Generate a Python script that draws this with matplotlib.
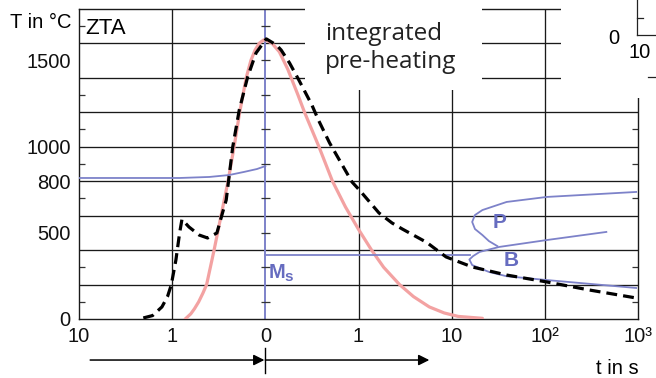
import matplotlib
matplotlib.use("Agg")
import matplotlib.pyplot as plt
from matplotlib.patches import Rectangle
from matplotlib.lines import Line2D

# ---------------- data (x = position in decades: -2..0 heating, 0..4 cooling) -------------
x_tick_pos = [-2, -1, 0, 1, 2, 3, 4]
x_tick_labels = ["10", "1", "0", "1", "10", "10\u00b2", "10\u00b3"]
y_tick_pos = [0, 500, 800, 1000, 1500]
y_tick_labels = ["0", "500", "800", "1000", "1500"]
y_grid = [200, 400, 600, 800, 1000, 1200, 1400, 1600]
y_minor = [100, 300, 500, 700, 900, 1100, 1300, 1500, 1700]
x_grid = [-1, 1, 2, 3]

# welding cycle (pink, solid)
pink_x = [-0.86, -0.80, -0.76, -0.715, -0.67, -0.63, -0.55, -0.475, -0.40, -0.335, -0.275,
          -0.205, -0.155, -0.11, -0.065, -0.02, 0.0,
          0.07, 0.15, 0.24, 0.35, 0.42, 0.575, 0.72, 0.86, 1.0, 1.14, 1.27, 1.44, 1.59,
          1.76, 1.92, 2.07, 2.33]
pink_T = [0, 30, 60, 100, 150, 200, 400, 600, 800, 1000, 1200,
          1400, 1500, 1560, 1600, 1618, 1620,
          1600, 1550, 1450, 1300, 1200, 1000, 800, 650, 520, 400, 300, 200, 130,
          70, 35, 15, 4]

# cycle with integrated pre-heating (black, dashed)
dash_x = [-1.31, -1.21, -1.11, -1.05, -1.01, -0.96, -0.92, -0.895, -0.82, -0.71, -0.62, -0.52,
          -0.46, -0.42, -0.35, -0.28, -0.19, -0.10, 0.01,
          0.12, 0.17, 0.26, 0.36, 0.50, 0.57, 0.69, 0.93, 1.01, 1.22, 1.36, 1.47, 1.73,
          1.94, 2.22, 2.59, 3.02, 3.48, 3.98]
dash_T = [6, 20, 70, 130, 197, 342, 499, 578, 534, 487, 470, 499,
          615, 690, 998, 1212, 1404, 1543, 1625,
          1589, 1560, 1485, 1386, 1241, 1154, 1021, 795, 748, 615, 557, 522, 445,
          360, 302, 255, 215, 168, 122]

# Ac line (heating side)
ac_x = [-2.0, -0.92, -0.60, -0.39, -0.23, -0.09, 0.0]
ac_T = [818, 818, 824, 835, 853, 870, 887]

# Ms line
ms_x = [0.0, 2.20]
ms_T = [371, 371]

# pearlite region boundary
p_x = [3.98, 3.02, 2.59, 2.33, 2.25, 2.22, 2.25, 2.33, 2.40, 2.49]
p_T = [737, 708, 679, 632, 603, 563, 522, 487, 452, 423]

# bainite region boundary
b_x = [3.66, 3.02, 2.51, 2.30, 2.23, 2.19, 2.22, 2.40, 2.59, 3.02, 3.98]
b_T = [505, 458, 418, 389, 365, 345, 313, 273, 248, 226, 180]

# ---------------- styling ---------------------------------------------------------------------
W, H = 656, 378
BLUE = "#7d82c9"
BLUE_TXT = "#666cc0"
PINK = "#f3a2a2"
TICK_FONT = "Liberation Sans"

def fx(px):
    return px / W

def fy(py):
    return 1 - py / H

fig = plt.figure(figsize=(W / 100, H / 100), dpi=100)
ax = fig.add_axes([fx(79), fy(319), (638 - 79) / W, (319 - 8.7) / H])
ax.set_xlim(-2, 4)
ax.set_ylim(0, 1800)

for y in y_grid:
    ax.axhline(y, color="#1a1a1a", lw=0.95, zorder=1)
for x in x_grid:
    ax.axvline(x, color="#1a1a1a", lw=0.95, zorder=1)
ax.axvline(0, color=BLUE, lw=1.4, zorder=2)
ax.hlines(y_minor, -0.05, 0.05, color="#333333", lw=0.9, zorder=2)

for s in ax.spines.values():
    s.set_color("#1a1a1a")
    s.set_linewidth(1.0)

ax.set_xticks(x_tick_pos)
ax.set_xticklabels(x_tick_labels, fontsize=14.5, family=TICK_FONT)
ax.set_yticks(y_tick_pos)
ax.set_yticklabels(y_tick_labels, fontsize=14.5, family=TICK_FONT)
ax.set_yticks(y_minor, minor=True)
ax.tick_params(axis="both", which="major", length=0, pad=6, colors="#111111")
ax.tick_params(axis="y", which="minor", direction="in", length=4.5, width=0.9,
               left=True, right=True, color="#333333")
ax.tick_params(axis="x", which="minor", length=0)

# curves
ax.plot(pink_x, pink_T, color=PINK, lw=2.3, solid_capstyle="round",
        solid_joinstyle="round", zorder=3)
ax.plot(ac_x, ac_T, color=BLUE, lw=1.3, zorder=4)
ax.plot(ms_x, ms_T, color=BLUE, lw=1.3, zorder=4)
ax.plot(p_x, p_T, color=BLUE, lw=1.3, solid_joinstyle="round", zorder=4)
ax.plot(b_x, b_T, color=BLUE, lw=1.3, solid_joinstyle="round", zorder=4)
ax.plot(dash_x, dash_T, color="black", lw=2.3, linestyle=(0, (3.4, 1.9)),
        dash_joinstyle="round", zorder=5)

# labels inside
ax.text(2.51, 557, "P", color=BLUE_TXT, fontsize=15, fontweight="bold",
        family=TICK_FONT, ha="center", va="center", zorder=6)
ax.text(2.64, 342, "B", color=BLUE_TXT, fontsize=15, fontweight="bold",
        family=TICK_FONT, ha="center", va="center", zorder=6)
ax.text(0.04, 267, "M", color=BLUE_TXT, fontsize=14.5, fontweight="bold",
        family=TICK_FONT, ha="left", va="center", zorder=6)
ax.text(0.205, 245, "s", color=BLUE_TXT, fontsize=11, fontweight="bold",
        family=TICK_FONT, ha="left", va="center", zorder=6)
ax.text(-1.935, 1688, "ZTA", color="black", fontsize=16, family=TICK_FONT,
        ha="left", va="center", zorder=6)

fig.text(fx(72), fy(23), "T in \u00b0C", fontsize=14.5, family=TICK_FONT,
         ha="right", va="center")
fig.text(fx(617), fy(368), "t in s", fontsize=14.5, family=TICK_FONT,
         ha="center", va="center")

# arrows below the axis
ax.annotate("", xy=(-0.01, -238), xytext=(-1.88, -238),
            arrowprops=dict(arrowstyle="-|>", color="black", lw=1.1,
                            mutation_scale=16, shrinkA=0, shrinkB=0),
            annotation_clip=False)
ax.annotate("", xy=(1.76, -238), xytext=(0.0, -238),
            arrowprops=dict(arrowstyle="-|>", color="black", lw=1.1,
                            mutation_scale=16, shrinkA=0, shrinkB=0),
            annotation_clip=False)
ax.plot([0, 0], [-168, -313], color="black", lw=1.0, clip_on=False)

# white overlays (slide elements covering the chart)
fig.add_artist(Rectangle((fx(305), fy(90)), (482 - 305) / W, 90 / H,
                         transform=fig.transFigure, facecolor="white",
                         edgecolor="none", zorder=10))
fig.add_artist(Rectangle((fx(561), fy(98)), (W - 561) / W, 98 / H,
                         transform=fig.transFigure, facecolor="white",
                         edgecolor="none", zorder=10))
fig.text(fx(325), fy(40), "integrated", fontsize=17.5,
         family="Open Sans", ha="left", va="baseline", color="#222222", zorder=11)
fig.text(fx(325), fy(68), "pre-heating", fontsize=17.5,
         family="Open Sans", ha="left", va="baseline", color="#222222", zorder=11)

# fragment of neighbouring chart
frag = [((637, 0), (637, 35)), ((637, 35), (656, 35)), ((637, 18), (643, 18)),
        ((648, 77), (656, 77))]
for (x0, y0), (x1, y1) in frag:
    fig.add_artist(Line2D([fx(x0), fx(x1)], [fy(y0), fy(y1)],
                          transform=fig.transFigure, color="#222222", lw=0.9,
                          zorder=11))
fig.text(fx(614), fy(38), "0", fontsize=14.5, family=TICK_FONT,
         ha="center", va="center", zorder=11)
fig.text(fx(640), fy(52), "10", fontsize=14.5, family=TICK_FONT,
         ha="center", va="center", zorder=11)

fig.savefig("out.png", dpi=100)
